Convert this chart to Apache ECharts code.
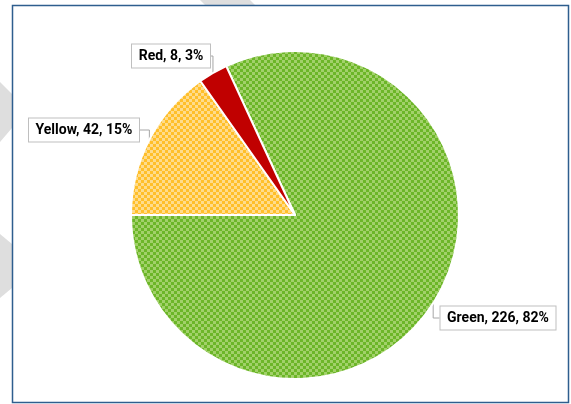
<!DOCTYPE html>
<html>
<head>
<meta charset="utf-8">
<script src="https://cdn.jsdelivr.net/npm/echarts@6/dist/echarts.min.js"></script>
<style>
html,body{margin:0;padding:0;background:#fff;}
#chart{width:571px;height:404px;}
</style>
</head>
<body>
<div id="chart"></div>
<script>
// ---- data ----
var categories = ['Green', 'Yellow', 'Red'];
var values = [226, 42, 8];

// ---- styling ----
function makePattern(base, light, cell) {
  var c = document.createElement('canvas');
  c.width = cell * 2; c.height = cell * 2;
  var g = c.getContext('2d');
  g.fillStyle = base; g.fillRect(0, 0, cell * 2, cell * 2);
  g.fillStyle = light;
  g.fillRect(0, 0, cell, cell);
  g.fillRect(cell, cell, cell, cell);
  return c;
}
var fills = [
  { image: makePattern('#6CB628', '#A2D16A', 3), repeat: 'repeat' },
  { image: makePattern('#FFBF2A', '#FFDC8C', 3), repeat: 'repeat' },
  '#C00000'
];
var labelPos = {
  Green: [498, 318],
  Yellow: [84, 130],
  Red: [171, 56]
};
var labelFont = 'bold 14px Roboto';
var measureCtx = document.createElement('canvas').getContext('2d');
measureCtx.font = labelFont;

var total = values.reduce(function (a, b) { return a + b; }, 0);
function labelText(i) {
  return categories[i] + ', ' + values[i] + ', ' + Math.round(values[i] / total * 100) + '%';
}

var chart = echarts.init(document.getElementById('chart'), null, { renderer: 'canvas' });
var seriesData = categories.map(function (name, i) {
  return { name: name, value: values[i], itemStyle: { color: fills[i] } };
});

chart.setOption({
  animation: false,
  backgroundColor: '#ffffff',
  graphic: [
    { type: 'polygon', shape: { points: [[200, 0], [250, 0], [255, 5], [205, 5]] }, style: { fill: '#DEDEDE' }, z: 0 },
    { type: 'polygon', shape: { points: [[0, 82], [12, 94], [12, 128], [0, 142]] }, style: { fill: '#DEDEDE' }, z: 0 },
    { type: 'polygon', shape: { points: [[0, 234], [12, 244], [12, 288], [0, 298]] }, style: { fill: '#DEDEDE' }, z: 0 },
    { type: 'rect', shape: { x: 12.5, y: 5.5, width: 556, height: 397 }, style: { fill: '#ffffff', stroke: '#2E5E8E', lineWidth: 1.5 }, z: 1 }
  ],
  series: [{
    type: 'pie',
    center: [295, 215],
    radius: 164,
    startAngle: 114.8,
    clockwise: true,
    percentPrecision: 0,
    z: 5,
    itemStyle: { borderColor: '#ffffff', borderWidth: 2 },
    label: {
      show: true,
      position: 'outside',
      alignTo: 'none',
      overflow: 'none',
      formatter: '{b}, {c}, {d}%',
      fontFamily: 'Roboto',
      fontWeight: 'bold',
      fontSize: 14,
      color: '#000000',
      backgroundColor: '#ffffff',
      borderColor: '#BFBFBF',
      borderWidth: 1,
      padding: [5, 6, 4, 6]
    },
    labelLine: { show: true, lineStyle: { color: '#A6A6A6', width: 1 } },
    labelLayout: function (p) {
      var pos = labelPos[categories[p.dataIndex]];
      var w = Math.ceil(measureCtx.measureText(labelText(p.dataIndex)).width) + 1;
      return { x: pos[0], y: pos[1], align: 'center', verticalAlign: 'middle', width: w };
    },
    emphasis: { disabled: true },
    data: seriesData
  }]
});
</script>
</body>
</html>
